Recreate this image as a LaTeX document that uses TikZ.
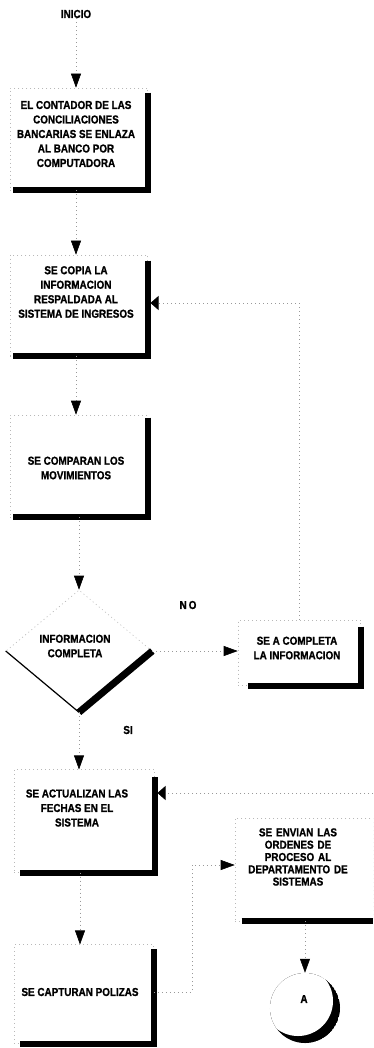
\documentclass[tikz,border=0pt]{standalone}
\usepackage{fontspec}
\setmainfont{Liberation Sans}[FakeStretch=0.86, BoldFeatures={FakeBold=1}]
\usetikzlibrary{arrows.meta,shapes.geometric,calc}
\begin{document}
\begin{tikzpicture}[x=1pt,y=-1pt,
  every node/.style={font=\fontsize{11.5}{14.5}\selectfont\bfseries, text=black},
  frame/.style={draw=black!28, dash pattern=on 1pt off 3pt, line width=0.6pt, inner sep=0pt},
  txt/.style={align=center, inner sep=0pt},
  shadowline/.style={line width=6pt, line join=miter, line cap=butt},
  conn/.style={draw=black!40, line width=0.6pt, dash pattern=on 1pt off 3pt, -{Triangle[length=14pt,width=10pt,color=black]}},
  sideconn/.style={draw=black!40, line width=0.6pt, dash pattern=on 1pt off 3pt, -{Triangle[length=8pt,width=14pt,color=black]}},
]
\useasboundingbox (0,0) rectangle (373,1048);
\clip (0,0) rectangle (373,1048);
\fill[white] (0,0) rectangle (373,1048);

% start
\node[txt] (start) at (76,14) {INICIO};

% box 1
\node[frame, minimum width=137.5, minimum height=102] (b1) at (78.75,139) {};
\node[txt] (t1) at (76,134) {EL CONTADOR DE LAS\\CONCILIACIONES\\BANCARIAS SE ENLAZA\\AL BANCO POR\\COMPUTADORA};
\draw[shadowline] ($(b1.north east)+(0,5)$) -- (b1.south east) -- ($(b1.south west)+(3,0)$);

% box 2
\node[frame, minimum width=137.5, minimum height=101] (b2) at (78.75,305.5) {};
\node[txt] (t2) at (76,292) {SE COPIA LA\\INFORMACION\\RESPALDADA AL\\SISTEMA DE INGRESOS};
\draw[shadowline] ($(b2.north east)+(0,6)$) -- (b2.south east) -- ($(b2.south west)+(3,0)$);

% box 3
\node[frame, minimum width=137.5, minimum height=102] (b3) at (78.75,466) {};
\node[txt] (t3) at (76,468) {SE COMPARAN LOS\\MOVIMIENTOS};
\draw[shadowline] ($(b3.north east)+(0,3)$) -- (b3.south east) -- ($(b3.south west)+(3,0)$);

% decision
\node[diamond, frame, minimum width=146, minimum height=122] (d) at (79,651) {};
\node[txt] (td) at (75,646) {INFORMACION\\COMPLETA};
\draw[line width=1.2pt, black] (d.west) -- (d.south);
\draw[line width=7pt, black, line cap=butt] (d.south) -- (d.east);

% box 5 (right)
\node[frame, minimum width=122.5, minimum height=65.5] (b5) at (299.25,652.75) {};
\node[txt] (t5) at (297,648) {SE A COMPLETA\\LA INFORMACION};
\draw[shadowline] ($(b5.north east)+(0,7)$) -- (b5.south east) -- ($(b5.south west)+(10,0)$);

% box 4
\node[frame, minimum width=140.5, minimum height=102.5] (b4) at (84.25,821) {};
\node[txt] (t4) at (77,808) {SE ACTUALIZAN LAS\\FECHAS EN EL\\SISTEMA};
\draw[shadowline] ($(b4.north east)+(0,8)$) -- (b4.south east) -- ($(b4.south west)+(6,0)$);

% box 7 (right)
\node[frame, minimum width=138, minimum height=103] (b7) at (304,869.5) {};
\node[txt, text width=130, font=\fontsize{11.5}{12.3}\selectfont\bfseries] (t7) at (298,857) {SE ENVIAN LAS\\ORDENES DE\\PROCESO AL\\DEPARTAMENTO DE\\SISTEMAS};
\draw[shadowline] ($(b7.south west)+(7,0)$) -- (b7.south east);

% box 6
\node[frame, minimum width=139.5, minimum height=98.5] (b6) at (83.75,994) {};
\node[txt] (t6) at (80,992) {SE CAPTURAN POLIZAS};
\draw[shadowline] ($(b6.north east)+(0,5)$) -- (b6.south east) -- ($(b6.south west)+(6,0)$);

% connector A
\node[circle, draw=black!15, dash pattern=on 1pt off 4pt, line width=0.5pt, inner sep=0pt, minimum size=70] (A) at (305,1008) {};
\begin{scope}
  \clip (A.center) circle (35);
  \fill[black] (A.center) circle (35);
  \fill[white] ($(A.center)+(-7,-7)$) circle (35);
\end{scope}
\node[txt] (tA) at (304,999) {A};

% labels
\node[txt] (no) at (188,605) {N\kern2pt O};
\node[txt] (si) at (128,730) {SI};

% connectors
\draw[conn] (start.south) -- (start.south |- b1.north);
\draw[conn] (b1.south -| t1) -- (b2.north -| t1);
\draw[conn] (b2.south -| t2) -- (b3.north -| t2);
\draw[conn] (b3.south -| d.north) -- (d.north);
\draw[conn] (d.east) -- (b5.west |- d.east);
\draw[conn] (d.south) -- (d.south |- b4.north);
\draw[conn] (b4.south -| t6) -- (b6.north -| t6);
\draw[conn] (b7.south -| A.north) -- (A.north);

% loop back from box 5 to box 2
\coordinate (lp) at (300,303);
\coordinate (lpe) at (150.5,303);
\draw[sideconn] (b5.north) -- (b5.north |- lp) -- (lpe);

% incoming from right into box 4
\coordinate (r4) at (373,793);
\coordinate (r4e) at (157.5,793);
\draw[sideconn] (r4) -- (r4e);

% box 6 to box 7
\coordinate (k1) at (192,992);
\coordinate (k2) at (192,865);
\draw[conn] (b6.east |- k1) -- (k1) -- (k2) -- (b7.west |- k2);
\end{tikzpicture}
\end{document}
